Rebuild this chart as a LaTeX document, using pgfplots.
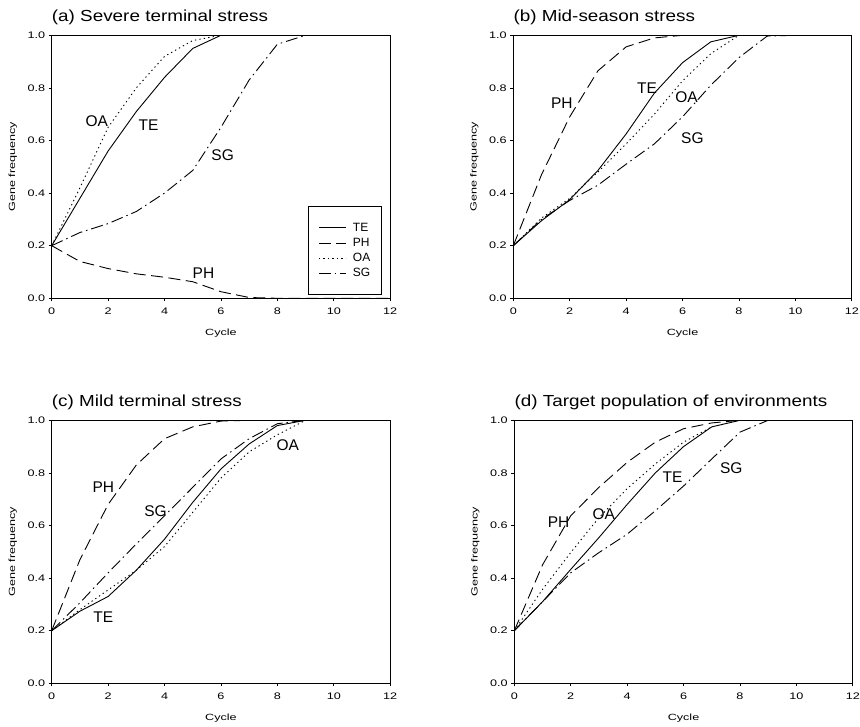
\documentclass[border=0pt]{standalone}
\usepackage{pgfplots}
\pgfplotsset{compat=1.18}
\usepackage{fontspec}
\setmainfont{Liberation Sans}
\newfontfamily\tickfont{Liberation Sans}[FakeStretch=1.33]
\newfontfamily\axlabfont{Liberation Sans}[FakeStretch=1.4]
\newfontfamily\titlefont{Liberation Sans}[FakeStretch=1.18]

\tikzset{lab/.style={font=\fontsize{15.5}{17}\selectfont, inner sep=0pt}}
\pgfplotsset{
 every axis title shift=0pt,
 panel/.style={
  scale only axis, width=338.5pt, height=263pt,
  xmin=0,xmax=12,ymin=0,ymax=1,
  xtick={0,2,...,12}, ytick={0,0.2,0.4,0.6,0.8,1.0},
  tick align=outside, tick pos=left, major tick length=3pt,
  yticklabel style={/pgf/number format/.cd,fixed,fixed zerofill,precision=1,assume math mode=true},
  xticklabel style={/pgf/number format/assume math mode=true, yshift=-3pt},
  tick label style={font=\tickfont\fontsize{9.5}{11}\selectfont},
  label style={font=\axlabfont\fontsize{9}{11}\selectfont},
  xlabel=Cycle, ylabel=Gene frequency,
  xlabel style={at={(axis description cs:0.5,0)}, anchor=center, yshift=-35pt},
  ylabel style={at={(axis description cs:-0.115,0.5)}, anchor=center},
  title style={at={(axis description cs:0,1)}, anchor=base west, font=\titlefont\fontsize{16}{18}\selectfont, inner sep=0pt, yshift=13.5pt},
  axis line style={line width=0.8pt},
  every tick/.style={black, line width=0.7pt},
  every axis plot/.append style={line width=0.9pt, black},
 },
 te/.style={solid},
 ph/.style={dash pattern=on 12pt off 5.5pt},
 oa/.style={dash pattern=on 1.3pt off 3.2pt},
 sg/.style={dash pattern=on 12pt off 4pt on 1.5pt off 4pt},
}

\begin{document}
\begin{tikzpicture}
\useasboundingbox (0pt,0pt) rectangle (860pt,727pt);

% (a)
\begin{axis}[panel, at={(51.7pt,428.7pt)}, anchor=south west,
  title={(a) Severe terminal stress},
  legend style={at={(0.976,0.0125)}, anchor=south east, draw=black, line width=0.6pt,
    inner xsep=10pt, inner ysep=15pt, row sep=2pt, column sep=5pt,
    nodes={font=\fontsize{12}{13}\selectfont, inner sep=1.5pt, text height=8.6pt, text depth=1.5pt}},
  legend cell align=left,
  legend image code/.code={\draw[#1] (0pt,0pt) -- (27pt,0pt);}]
\addplot[te] coordinates {(0,0.2)(1,0.38)(2,0.56)(3,0.71)(4,0.84)(5,0.95)(6,1.0)(12,1.0)};
\addplot[ph] coordinates {(0,0.2)(1,0.14)(2,0.113)(3,0.093)(4,0.08)(5,0.063)(6,0.025)(7,0.003)(8,0)(12,0)};
\addplot[oa] coordinates {(0,0.2)(1,0.42)(2,0.65)(3,0.80)(4,0.92)(5,0.98)(6,1.0)(12,1.0)};
\addplot[sg] coordinates {(0,0.2)(1,0.25)(2,0.284)(3,0.33)(4,0.40)(5,0.486)(6,0.65)(7,0.83)(8,0.966)(9,1.0)(12,1.0)};
\legend{TE,PH,OA,SG}
\node[lab] at (axis cs:1.6,0.675) {OA};
\node[lab] at (axis cs:3.43,0.66) {TE};
\node[lab] at (axis cs:6.06,0.543) {SG};
\node[lab] at (axis cs:5.38,0.095) {PH};
\end{axis}

% (b)
\begin{axis}[panel, at={(513.3pt,428.7pt)}, anchor=south west,
  title={(b) Mid-season stress}]
\addplot[ph] coordinates {(0,0.2)(1,0.47)(2,0.69)(3,0.865)(4,0.956)(5,0.99)(6,1.0)(12,1.0)};
\addplot[te] coordinates {(0,0.2)(1,0.295)(2,0.375)(3,0.486)(4,0.625)(5,0.78)(6,0.896)(7,0.975)(8,1.0)(12,1.0)};
\addplot[oa] coordinates {(0,0.2)(1,0.305)(2,0.38)(3,0.48)(4,0.587)(5,0.70)(6,0.827)(7,0.93)(8,1.0)(12,1.0)};
\addplot[sg] coordinates {(0,0.2)(1,0.30)(2,0.372)(3,0.43)(4,0.51)(5,0.587)(6,0.69)(7,0.81)(8,0.915)(9,0.997)(10,1.0)(12,1.0)};
\node[lab] at (axis cs:1.72,0.74) {PH};
\node[lab] at (axis cs:4.74,0.80) {TE};
\node[lab] at (axis cs:6.14,0.764) {OA};
\node[lab] at (axis cs:6.35,0.61) {SG};
\end{axis}

% (c)
\begin{axis}[panel, at={(51.7pt,43.7pt)}, anchor=south west,
  title={(c) Mild terminal stress}]
\addplot[ph] coordinates {(0,0.2)(1,0.47)(2,0.68)(3,0.83)(4,0.93)(5,0.975)(6,0.997)(7,1.0)(12,1.0)};
\addplot[te] coordinates {(0,0.2)(1,0.274)(2,0.33)(3,0.43)(4,0.548)(5,0.688)(6,0.815)(7,0.91)(8,0.98)(9,1.0)(12,1.0)};
\addplot[oa] coordinates {(0,0.2)(1,0.28)(2,0.355)(3,0.43)(4,0.52)(5,0.65)(6,0.78)(7,0.88)(8,0.945)(9,1.0)(12,1.0)};
\addplot[sg] coordinates {(0,0.2)(1,0.306)(2,0.42)(3,0.53)(4,0.637)(5,0.745)(6,0.853)(7,0.93)(8,0.987)(9,1.0)(12,1.0)};
\node[lab] at (axis cs:1.83,0.745) {PH};
\node[lab] at (axis cs:3.68,0.656) {SG};
\node[lab] at (axis cs:1.83,0.252) {TE};
\node[lab] at (axis cs:8.37,0.904) {OA};
\end{axis}

% (d)
\begin{axis}[panel, at={(514.3pt,43.7pt)}, anchor=south west,
  title={(d) Target population of environments}]
\addplot[ph] coordinates {(0,0.2)(1,0.45)(2,0.637)(3,0.745)(4,0.84)(5,0.917)(6,0.968)(7,0.99)(8,1.0)(12,1.0)};
\addplot[te] coordinates {(0,0.2)(1,0.31)(2,0.433)(3,0.554)(4,0.68)(5,0.80)(6,0.90)(7,0.975)(8,1.0)(12,1.0)};
\addplot[oa] coordinates {(0,0.2)(1,0.357)(2,0.497)(3,0.63)(4,0.74)(5,0.834)(6,0.917)(7,0.975)(8,1.0)(12,1.0)};
\addplot[sg] coordinates {(0,0.2)(1,0.31)(2,0.42)(3,0.497)(4,0.567)(5,0.656)(6,0.75)(7,0.853)(8,0.955)(9,1.0)(12,1.0)};
\node[lab] at (axis cs:1.57,0.611) {PH};
\node[lab] at (axis cs:3.17,0.643) {OA};
\node[lab] at (axis cs:5.61,0.783) {TE};
\node[lab] at (axis cs:7.69,0.818) {SG};
\end{axis}
\end{tikzpicture}
\end{document}
